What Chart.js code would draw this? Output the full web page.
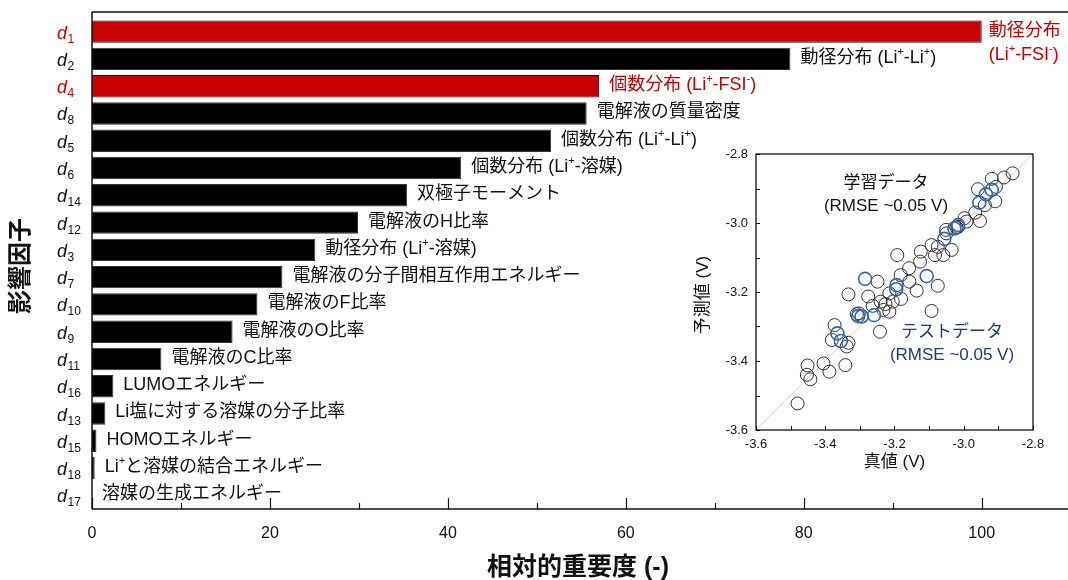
<!DOCTYPE html>
<html><head><meta charset="utf-8">
<script src="https://cdn.jsdelivr.net/npm/chart.js@4"></script>
<style>
html,body{margin:0;padding:0;background:#fff;}
#wrap{position:relative;width:1068px;height:580px;overflow:hidden;}
#main{position:absolute;left:0;top:0;}
#inset{position:absolute;left:680px;top:140px;}
</style>
</head><body>
<div id="wrap"><canvas id="main" width="1068" height="580"></canvas><canvas id="inset" width="388" height="340"></canvas></div>
<script>
// ---------- data ----------
const factorIds = [1, 2, 4, 8, 5, 6, 14, 12, 3, 7, 10, 9, 11, 16, 13, 15, 18, 17];
const importance = [100, 78.5, 57.0, 55.6, 51.6, 41.5, 35.4, 29.9, 25.1, 21.4, 18.6, 15.8, 7.8, 2.4, 1.5, 0.5, 0.3, 0];
const highlightedIds = [1, 4];
const factorNames = [
  "動径分布\n(Li^+-FSI^-)",
  "動径分布 (Li^+-Li^+)",
  "個数分布 (Li^+-FSI^-)",
  "電解液の質量密度",
  "個数分布 (Li^+-Li^+)",
  "個数分布 (Li^+-溶媒)",
  "双極子モーメント",
  "電解液のH比率",
  "動径分布 (Li^+-溶媒)",
  "電解液の分子間相互作用エネルギー",
  "電解液のF比率",
  "電解液のO比率",
  "電解液のC比率",
  "LUMOエネルギー",
  "Li塩に対する溶媒の分子比率",
  "HOMOエネルギー",
  "Li^+と溶媒の結合エネルギー",
  "溶媒の生成エネルギー"
];
const xMajorTicks = [0, 20, 40, 60, 80, 100];
const xMinorTicks = [10, 30, 50, 70, 90];
const xTitle = "相対的重要度 (-)";
const yTitle = "影響因子";

const trainTrue = [-2.859,-2.884,-2.919,-2.959,-2.907,-2.909,-2.939,-2.953,-2.967,-2.998,-2.992,-3.021,-3.051,-3.093,-3.075,-3.083,-3.059,-3.035,-3.124,-3.126,-3.192,-3.158,-3.182,-3.157,-3.136,-3.075,-3.249,-3.276,-3.333,-3.181,-3.215,-3.205,-3.240,-3.263,-3.232,-3.215,-3.303,-3.093,-3.242,-3.373,-3.381,-3.333,-3.338,-3.342,-3.405,-3.388,-3.451,-3.453,-3.443,-3.480,-3.050,-3.016,-3.226,-3.309];
const trainPred = [-2.856,-2.868,-2.872,-2.902,-2.895,-2.937,-2.948,-2.994,-2.970,-2.986,-2.996,-3.013,-3.020,-3.064,-3.069,-3.093,-3.093,-3.078,-3.083,-3.112,-3.093,-3.131,-3.151,-3.170,-3.196,-3.182,-3.170,-3.213,-3.207,-3.220,-3.204,-3.228,-3.228,-3.240,-3.252,-3.257,-3.262,-3.255,-3.315,-3.296,-3.339,-3.347,-3.358,-3.412,-3.407,-3.431,-3.413,-3.440,-3.453,-3.523,-3.030,-3.011,-3.235,-3.264];
const testTrue = [-2.919,-2.936,-2.955,-3.016,-3.027,-3.056,-3.107,-3.194,-3.195,-3.285,-3.259,-3.295,-3.305,-3.365,-3.355];
const testPred = [-2.904,-2.917,-2.941,-3.006,-3.016,-3.046,-3.154,-3.180,-3.192,-3.162,-3.267,-3.271,-3.270,-3.320,-3.342];
const insetMajorTicks = [-3.6, -3.4, -3.2, -3.0, -2.8];
const insetMinorTicks = [-3.5, -3.3, -3.1, -2.9];
const insetXTitle = "真値 (V)";
const insetYTitle = "予測値 (V)";
const trainLabel = ["学習データ", "(RMSE ~0.05 V)"];
const testLabel = ["テストデータ", "(RMSE ~0.05 V)"];

// ---------- styles ----------
const RED = "#c80000";
const BLUE = "#3466ad";
const NAVY = "#1f3a78";
const FONT = '"Liberation Sans","Noto Sans CJK JP",sans-serif';

function drawRich(ctx, str, x, y, size, color) {
  ctx.fillStyle = color;
  ctx.textBaseline = "middle";
  ctx.textAlign = "left";
  const base = size + "px " + FONT;
  const sup = Math.round(size * 0.62) + "px " + FONT;
  let cx = x, buf = "", i = 0;
  const flush = () => {
    if (buf) { ctx.font = base; ctx.fillText(buf, cx, y); cx += ctx.measureText(buf).width; buf = ""; }
  };
  while (i < str.length) {
    if (str[i] === "^") {
      flush();
      ctx.font = sup;
      const c = str[i + 1];
      ctx.fillText(c, cx, y - size * 0.33);
      cx += ctx.measureText(c).width;
      i += 2;
    } else { buf += str[i]; i++; }
  }
  flush();
}

const isHi = id => highlightedIds.includes(id);

// ---------- main chart ----------
const mainPlugin = {
  id: "mainDecor",
  afterDatasetsDraw(chart) {
    const ctx = chart.ctx;
    const a = chart.chartArea;
    const xs = chart.scales.x, ys = chart.scales.y;
    const frameTop = a.top - 6;
    ctx.save();
    // frame lines
    ctx.strokeStyle = "#111";
    ctx.lineWidth = 1.5;
    ctx.beginPath();
    ctx.moveTo(a.left, frameTop); ctx.lineTo(a.right, frameTop);
    ctx.moveTo(a.left, frameTop); ctx.lineTo(a.left, a.bottom);
    ctx.moveTo(a.left, a.bottom); ctx.lineTo(a.right, a.bottom);
    ctx.stroke();
    // x ticks (inward)
    ctx.lineWidth = 1.2;
    ctx.beginPath();
    xMajorTicks.forEach(v => { const px = Math.round(xs.getPixelForValue(v)) + 0.5; ctx.moveTo(px, a.bottom); ctx.lineTo(px, a.bottom - 11); });
    xMinorTicks.forEach(v => { const px = Math.round(xs.getPixelForValue(v)) + 0.5; ctx.moveTo(px, a.bottom); ctx.lineTo(px, a.bottom - 6); });
    ctx.stroke();
    // x tick labels
    ctx.fillStyle = "#111";
    ctx.font = "16px " + FONT;
    ctx.textAlign = "center"; ctx.textBaseline = "middle";
    xMajorTicks.forEach(v => ctx.fillText(String(v), xs.getPixelForValue(v), a.bottom + 25));
    // x title
    ctx.font = "bold 25px " + FONT;
    ctx.fillText(xTitle, (a.left + 1064) / 2, 568);
    // y title
    ctx.save();
    ctx.translate(21, 266);
    ctx.rotate(-Math.PI / 2);
    ctx.font = "bold 24px " + FONT;
    ctx.textAlign = "center"; ctx.textBaseline = "middle";
    ctx.fillText(yTitle, 0, 0);
    ctx.restore();
    // y labels d_n
    factorIds.forEach((id, i) => {
      const py = ys.getPixelForValue(i);
      const col = isHi(id) ? RED : "#111";
      ctx.fillStyle = col;
      ctx.textAlign = "left"; ctx.textBaseline = "alphabetic";
      ctx.font = "italic 18px " + FONT;
      ctx.fillText("d", 57, py + 7);
      const w = ctx.measureText("d").width;
      ctx.font = "12px " + FONT;
      ctx.fillText(String(id), 57 + w + 0.5, py + 11);
    });
    // bar labels
    const meta = chart.getDatasetMeta(0);
    meta.data.forEach((bar, i) => {
      const id = factorIds[i];
      const col = isHi(id) ? RED : "#111";
      const lines = factorNames[i].split("\n");
      const x0 = bar.x + (lines.length > 1 ? 7 : 10);
      lines.forEach((ln, k) => drawRich(ctx, ln, x0, bar.y - 1 + k * 24, 18, col));
    });
    ctx.restore();
  }
};

new Chart(document.getElementById("main"), {
  type: "bar",
  data: {
    labels: factorIds.map(id => "d" + id),
    datasets: [{
      data: importance,
      backgroundColor: factorIds.map(id => isHi(id) ? RED : "#000"),
      borderColor: factorIds.map(id => isHi(id) ? "#3a0000" : "#333"),
      borderWidth: 1,
      barPercentage: 0.82,
      categoryPercentage: 1.0
    }]
  },
  options: {
    indexAxis: "y",
    responsive: false,
    devicePixelRatio: 1,
    animation: false,
    layout: { padding: { left: 92, top: 18, right: 0, bottom: 71 } },
    plugins: { legend: { display: false }, tooltip: { enabled: false } },
    scales: {
      x: { display: false, min: 0, max: 109.7 },
      y: { display: false }
    }
  },
  plugins: [mainPlugin]
});

// ---------- inset chart ----------
const insetPlugin = {
  id: "insetDecor",
  beforeDatasetsDraw(chart) {
    const ctx = chart.ctx, a = chart.chartArea;
    ctx.save();
    ctx.fillStyle = "#fff";
    ctx.fillRect(a.left, a.top, a.right - a.left, a.bottom - a.top);
    ctx.restore();
  },
  afterDatasetsDraw(chart) {
    const ctx = chart.ctx, a = chart.chartArea;
    const xs = chart.scales.x, ys = chart.scales.y;
    ctx.save();
    ctx.strokeStyle = "#111";
    ctx.lineWidth = 1.3;
    ctx.strokeRect(a.left, a.top, a.right - a.left, a.bottom - a.top);
    ctx.lineWidth = 1;
    ctx.beginPath();
    insetMajorTicks.concat(insetMinorTicks).forEach(v => {
      const px = Math.round(xs.getPixelForValue(v)) + 0.5;
      ctx.moveTo(px, a.bottom); ctx.lineTo(px, a.bottom - 4);
      const py = Math.round(ys.getPixelForValue(v)) + 0.5;
      ctx.moveTo(a.left, py); ctx.lineTo(a.left + 4, py);
    });
    ctx.stroke();
    ctx.fillStyle = "#111";
    ctx.font = "13px " + FONT;
    ctx.textBaseline = "middle";
    ctx.textAlign = "center";
    insetMajorTicks.forEach(v => ctx.fillText(v.toFixed(1), xs.getPixelForValue(v), a.bottom + 14));
    ctx.textAlign = "right";
    insetMajorTicks.forEach(v => ctx.fillText(v.toFixed(1), a.left - 8, ys.getPixelForValue(v)));
    // titles
    ctx.font = "17px " + FONT;
    ctx.textAlign = "center";
    ctx.fillText(insetXTitle, (a.left + a.right) / 2, a.bottom + 32);
    ctx.save();
    ctx.translate(a.left - 53, (a.top + a.bottom) / 2 + 3);
    ctx.rotate(-Math.PI / 2);
    ctx.fillText(insetYTitle, 0, 0);
    ctx.restore();
    // annotations
    ctx.fillStyle = "#111";
    ctx.fillText(trainLabel[0], 886 - 680, 183 - 140);
    ctx.fillText(trainLabel[1], 886 - 680, 206 - 140);
    ctx.fillStyle = NAVY;
    ctx.fillText(testLabel[0], 952 - 680, 332 - 140);
    ctx.fillText(testLabel[1], 952 - 680, 355 - 140);
    ctx.restore();
  }
};

new Chart(document.getElementById("inset"), {
  type: "scatter",
  data: {
    datasets: [
      {
        type: "line",
        data: [{ x: insetMajorTicks[0], y: insetMajorTicks[0] }, { x: insetMajorTicks[4], y: insetMajorTicks[4] }],
        borderColor: "#d4d4d4", borderWidth: 1, pointRadius: 0, fill: false, order: 3
      },
      {
        data: trainTrue.map((v, i) => ({ x: v, y: trainPred[i] })),
        pointRadius: 6.5, pointBorderWidth: 1, pointBorderColor: "#333",
        pointBackgroundColor: "rgba(0,0,0,0)", order: 2
      },
      {
        data: testTrue.map((v, i) => ({ x: v, y: testPred[i] })),
        pointRadius: 6.5, pointBorderWidth: 1.6, pointBorderColor: BLUE,
        pointBackgroundColor: "rgba(0,0,0,0)", order: 1
      }
    ]
  },
  options: {
    responsive: false,
    devicePixelRatio: 1,
    animation: false,
    layout: { padding: { left: 76, top: 14, right: 35, bottom: 50 } },
    plugins: { legend: { display: false }, tooltip: { enabled: false } },
    scales: {
      x: { type: "linear", display: false, min: -3.6, max: -2.8 },
      y: { type: "linear", display: false, min: -3.6, max: -2.8 }
    }
  },
  plugins: [insetPlugin]
});
</script>
</body></html>
